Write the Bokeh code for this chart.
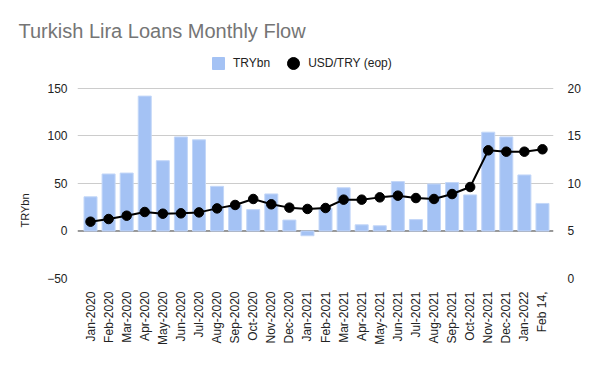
import math
from bokeh.plotting import figure
from bokeh.models import (Range1d, LinearAxis, FixedTicker, Span, Title, Legend, LegendItem,
                          ColumnDataSource)
from bokeh.embed import file_html
from bokeh.resources import INLINE

months = ["Jan-2020", "Feb-2020", "Mar-2020", "Apr-2020", "May-2020", "Jun-2020", "Jul-2020",
          "Aug-2020", "Sep-2020", "Oct-2020", "Nov-2020", "Dec-2020", "Jan-2021", "Feb-2021",
          "Mar-2021", "Apr-2021", "May-2021", "Jun-2021", "Jul-2021", "Aug-2021", "Sep-2021",
          "Oct-2021", "Nov-2021", "Dec-2021", "Jan-2022", "Feb 14,"]
try_bn = [36, 60, 61, 142, 74, 99, 96, 47, 27, 22.5, 39, 11.5, -5, 24, 45.5, 6.5, 5.5, 52,
          12, 49.5, 51, 38, 104, 99, 59, 29]
usd_try = [5.98, 6.26, 6.61, 7.0, 6.82, 6.86, 6.96, 7.38, 7.74, 8.37, 7.81, 7.46, 7.32, 7.42,
           8.3, 8.3, 8.54, 8.72, 8.47, 8.37, 8.89, 9.63, 13.49, 13.35, 13.35, 13.6]
left_ticks = [-50, 0, 50, 100, 150]
right_ticks = [0, 5, 10, 15, 20]

FONT = "Liberation Sans"
idx = list(range(len(months)))
src = ColumnDataSource(dict(x=idx, bar=try_bn, fx=usd_try))

# frame spans the legend band too; ranges extended so that the ticks stay in place
p = figure(width=592, height=363, output_backend="svg", toolbar_location=None,
           x_range=Range1d(-0.72, 25.61), y_range=Range1d(-50, 195.26),
           min_border_left=77, min_border_right=39, min_border_top=45, min_border_bottom=85)
p.outline_line_color = None
p.extra_y_ranges = {"fx": Range1d(0, 24.526)}

p.title.text = "Turkish Lira Loans Monthly Flow"
p.title.text_font = FONT
p.title.text_font_size = "20px"
p.title.text_font_style = "normal"
p.title.text_color = "#757575"
p.title.align = "left"
p.title.offset = -59
p.title.standoff = 7

# grid
p.xgrid.visible = False
p.ygrid.ticker = FixedTicker(ticks=[-50, 50, 100, 150])
p.ygrid.grid_line_color = "#cccccc"

base = Span(location=0, dimension="width", line_color="#333333", line_width=1, level="underlay")
p.add_layout(base)

p.vbar(x="x", top="bar", width=0.72, source=src, fill_color="#a4c2f4",
       line_color="#c3d7f8", line_width=1)
p.line(x="x", y="fx", source=src, y_range_name="fx", line_color="black", line_width=2)
p.scatter(x="x", y="fx", source=src, y_range_name="fx", size=9.5, fill_color="black",
          line_color="black")

# axes
for ax in [p.xaxis[0], p.yaxis[0]]:
    ax.axis_line_color = None
    ax.major_tick_line_color = None
    ax.minor_tick_line_color = None
    ax.major_label_text_font = FONT
    ax.major_label_text_font_size = "12px"
    ax.major_label_text_color = "#222222"

p.xaxis.ticker = FixedTicker(ticks=idx)
p.xaxis.major_label_overrides = {i: m for i, m in enumerate(months)}
p.xaxis.major_label_orientation = math.pi / 2
p.xaxis.major_label_standoff = 7

p.yaxis.ticker = FixedTicker(ticks=left_ticks)
p.yaxis.major_label_standoff = 4

rax = LinearAxis(y_range_name="fx", ticker=FixedTicker(ticks=right_ticks))
rax.axis_line_color = None
rax.major_tick_line_color = None
rax.minor_tick_line_color = None
rax.major_label_text_font = FONT
rax.major_label_text_font_size = "12px"
rax.major_label_text_color = "#222222"
rax.major_label_standoff = 8
p.add_layout(rax, "right")

ytitle = Title(text="TRYbn", align="left", offset=51, standoff=28, text_font=FONT,
               text_font_size="11px", text_font_style="normal", text_color="#222222")
p.add_layout(ytitle, "left")

# legend with dummy markers
nan = float("nan")
sq = p.scatter(x=[nan], y=[nan], marker="square", size=12, fill_color="#a4c2f4",
               line_color="#a4c2f4")
ci = p.scatter(x=[nan], y=[nan], marker="circle", size=12, fill_color="black",
               line_color="black")
legend = Legend(items=[LegendItem(label="TRYbn", renderers=[sq]),
                       LegendItem(label="USD/TRY (eop)", renderers=[ci])],
                orientation="horizontal", location=(126, 200), glyph_width=30, glyph_height=30,
                label_standoff=0, spacing=8, padding=0, margin=0, border_line_color=None,
                background_fill_alpha=0, label_text_font=FONT, label_text_font_size="12px",
                label_text_color="#222222")
p.add_layout(legend, "center")

open("out.html", "w").write(file_html(p, INLINE))
